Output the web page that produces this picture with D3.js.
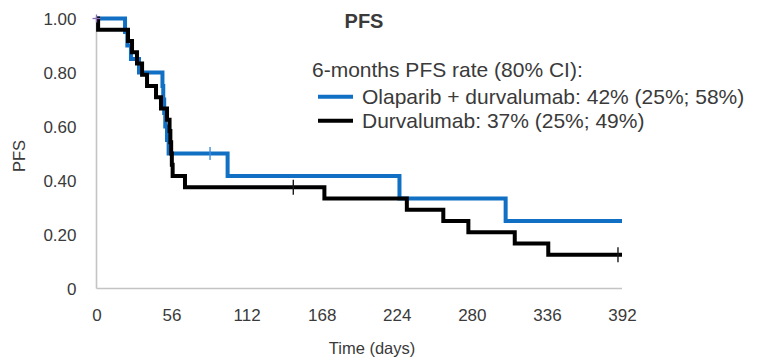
<!DOCTYPE html>
<html>
<head>
<meta charset="utf-8">
<script src="https://cdn.jsdelivr.net/npm/d3@7"></script>
<style>
  html, body { margin: 0; padding: 0; background: #ffffff; }
  svg { display: block; }
  text { font-family: "Liberation Sans", Arial, sans-serif; fill: #3a3a3a; }
</style>
</head>
<body>
<svg id="chart" width="758" height="363"></svg>
<script>
// Kaplan-Meier progression-free survival, two arms
const seriesNames = ["Olaparib + durvalumab: 42% (25%; 58%)", "Durvalumab: 37% (25%; 49%)"];

// Olaparib + durvalumab: event times (days) and survival after each step
const olaTimes  = [0, 21.3, 23, 25.7, 31.7, 49.2, 49.8, 50.5, 51.3, 52.6, 53.8, 97.8, 226, 305.2];
const olaValues = [1.0, 0.95, 0.90, 0.85, 0.80, 0.75, 0.70, 0.65, 0.60, 0.55, 0.50, 0.417, 0.333, 0.25];
const olaCensorTimes = [84.7];

// Durvalumab: event times (days) and survival after each step
const durTimes  = [0, 1.2, 23.5, 26.5, 30.2, 34, 37.7, 44.4, 48.1, 52.6, 54.5, 55.1, 55.7, 56.2, 56.8, 66, 170, 231.5, 258.7, 277.4, 312, 337];
const durValues = [1.0, 0.958, 0.917, 0.875, 0.833, 0.792, 0.75, 0.708, 0.667, 0.625, 0.583, 0.542, 0.5, 0.458, 0.417, 0.375, 0.333, 0.292, 0.25, 0.208, 0.167, 0.125];
const durCensorTimes = [146.8, 389];

const followUpEnd = 392;

const xTicks = [0, 56, 112, 168, 224, 280, 336, 392];
const yTicks = [0, 0.2, 0.4, 0.6, 0.8, 1.0];
const yTickLabels = ["0", "0.20", "0.40", "0.60", "0.80", "1.00"];

const chartTitle = "PFS";
const legendTitle = "6-months PFS rate (80% CI):";
const xTitle = "Time (days)";
const yTitle = "PFS";

const colors = ["#1170c4", "#000000"];

const svg = d3.select("#chart");

const x = d3.scaleLinear().domain([0, 392]).range([96.5, 622]);
const y = d3.scaleLinear().domain([0, 1]).range([288.5, 18.5]);

// axis frame (left and bottom, no tick marks)
const axisColor = "#c4c4c4";
const yAxis = svg.append("g")
  .attr("transform", `translate(${x(0)},0)`)
  .call(d3.axisLeft(y).tickValues(yTicks).tickSize(0).tickPadding(20)
    .tickFormat((d, i) => yTickLabels[i]));
yAxis.select(".domain").attr("stroke", axisColor).attr("stroke-width", 1.6)
  .attr("d", `M0,${y(1) - 2}V${y(0)}`);
yAxis.selectAll("text").attr("font-size", "17px").attr("dy", "0.36em")
  .style("font-family", "'Liberation Sans', Arial, sans-serif").attr("fill", "#3a3a3a");

const xAxis = svg.append("g")
  .attr("transform", `translate(0,${y(0)})`)
  .call(d3.axisBottom(x).tickValues(xTicks).tickSize(0).tickPadding(20)
    .tickFormat(d3.format("d")));
xAxis.select(".domain").attr("stroke", axisColor).attr("stroke-width", 1.6)
  .attr("d", `M${x(0)},0H${x(392)}`);
xAxis.selectAll("text").attr("font-size", "17px")
  .style("font-family", "'Liberation Sans', Arial, sans-serif").attr("fill", "#3a3a3a");

// step curves
function stepData(times, values) {
  const pts = times.map((t, i) => [t, values[i]]);
  pts.push([followUpEnd, values[values.length - 1]]);
  return pts;
}
const line = d3.line()
  .x(d => x(d[0]))
  .y(d => y(d[1]))
  .curve(d3.curveStepAfter);

function survivalAt(times, values, t) {
  let v = values[0];
  for (let i = 0; i < times.length; i++) if (times[i] <= t) v = values[i];
  return v;
}

const arms = [
  { times: olaTimes, values: olaValues, censor: olaCensorTimes, color: colors[0], tick: "#3d8fd8", tickH: 6.5 },
  { times: durTimes, values: durValues, censor: durCensorTimes, color: colors[1], tick: "#1a1a1a", tickH: 7.5 }
];

arms.forEach(a => {
  svg.append("path")
    .datum(stepData(a.times, a.values))
    .attr("fill", "none")
    .attr("stroke", a.color)
    .attr("stroke-width", 4)
    .attr("stroke-linejoin", "miter")
    .attr("d", line);
  svg.selectAll(null)
    .data(a.censor)
    .enter().append("line")
    .attr("x1", d => x(d)).attr("x2", d => x(d))
    .attr("y1", d => y(survivalAt(a.times, a.values, d)) - a.tickH)
    .attr("y2", d => y(survivalAt(a.times, a.values, d)) + a.tickH)
    .attr("stroke", a.tick)
    .attr("stroke-width", 1.4);
});

// start marker at the origin of the curves
const startMark = svg.append("g").attr("transform", `translate(${x(0)},${y(1)})`);
startMark.append("line").attr("x1", -4).attr("x2", 4).attr("y1", 0).attr("y2", 0)
  .attr("stroke", "#8a6fb8").attr("stroke-width", 1.3);
startMark.append("line").attr("x1", 0).attr("x2", 0).attr("y1", -4).attr("y2", 4)
  .attr("stroke", "#8a6fb8").attr("stroke-width", 1.3);

// titles
svg.append("text").attr("x", 364).attr("y", 28).attr("text-anchor", "middle")
  .attr("font-size", "20px").attr("font-weight", "bold").attr("fill", "#111")
  .text(chartTitle);

svg.append("text").attr("x", 372).attr("y", 354).attr("text-anchor", "middle")
  .attr("font-size", "16.5px").text(xTitle);

svg.append("text")
  .attr("transform", "translate(25,156) rotate(-90)")
  .attr("text-anchor", "middle")
  .attr("font-size", "16.5px").text(yTitle);

// legend
const legend = svg.append("g");
legend.append("text").attr("x", 312).attr("y", 77)
  .attr("font-size", "21px").text(legendTitle);
seriesNames.forEach((name, i) => {
  const cy = 96.7 + i * 24;
  legend.append("line")
    .attr("x1", 318).attr("x2", 353).attr("y1", cy).attr("y2", cy)
    .attr("stroke", colors[i]).attr("stroke-width", 4);
  legend.append("text").attr("x", 362).attr("y", cy + 7.5)
    .attr("font-size", "21px").text(name);
});
</script>
</body>
</html>
